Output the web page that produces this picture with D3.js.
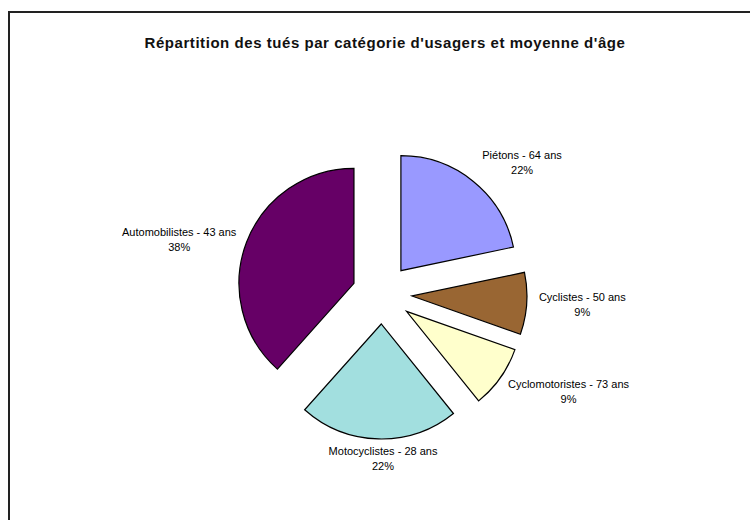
<!DOCTYPE html>
<html>
<head>
<meta charset="utf-8">
<script src="https://cdn.jsdelivr.net/npm/d3@7"></script>
<style>
  body { margin: 0; background: #fff; }
  svg { display: block; }
</style>
</head>
<body>
<svg id="chart" width="750" height="520"></svg>
<script>
'use strict';
var categories = ['Piétons', 'Cyclistes', 'Cyclomotoristes', 'Motocyclistes', 'Automobilistes'];
var ages = [64, 50, 73, 28, 43];
var shares = [21.7, 8.7, 8.8, 22.4, 38.4];
var colors = ['#9999ff', '#996633', '#ffffcc', '#a2dfdf', '#660066'];

var titleText = "Répartition des tués par catégorie d'usagers et moyenne d'âge";

var svg = d3.select('#chart');

// frame (open on the right and bottom, like the source)
svg.append('path')
   .attr('d', 'M9,520 V12 H750')
   .style('fill', 'none')
   .style('stroke', '#222')
   .style('stroke-width', 2);

svg.append('text')
   .text(titleText)
   .attr('x', 385)
   .attr('y', 44)
   .style('font-family', '"Liberation Sans", Arial, sans-serif')
   .style('font-weight', 'bold')
   .style('font-size', '15px')
   .style('letter-spacing', '0.55px')
   .style('fill', '#111')
   .style('dominant-baseline', 'middle')
   .style('text-anchor', 'middle');

var cx = 382, cy = 294,
    radius = 115,
    explode = 30,
    labelR = 154;

// small hand nudges so label boxes sit where the source put them
var labelNudge = [[3, -2.5], [3, -2], [0, -1], [9, -4.5], [-1.5, 4.5]];

var slices = d3.pie().sort(null).value(function(d){ return d; })(shares);
var arc = d3.arc().innerRadius(0).outerRadius(radius);

var pie = svg.append('g').attr('id', 'pie')
             .attr('transform', d3.zoomIdentity.translate(cx, cy));

var mid = function(d){ return (d.startAngle + d.endAngle) / 2; };

pie.selectAll('path')
   .data(slices)
   .enter()
   .append('path')
   .attr('transform', function(d){
       var a = mid(d);
       return d3.zoomIdentity.translate(explode * Math.sin(a), -explode * Math.cos(a));
   })
   .attr('d', arc)
   .style('fill', function(d, i){ return colors[i]; })
   .style('stroke', '#000')
   .style('stroke-width', 1.2)
   .style('stroke-linejoin', 'miter');

// labels: box placed outside the exploded slice
var labels = pie.append('g').attr('id', 'labels');
labels.selectAll('g')
   .data(slices)
   .enter()
   .append('g')
   .each(function(d, i){
       var g = d3.select(this);
       var a = mid(d);
       var t = g.append('text')
                .attr('text-anchor', 'middle')
                .style('font-family', '"Liberation Sans", Arial, sans-serif')
                .style('font-size', '11px')
                .style('fill', '#000');
       t.append('tspan').attr('x', 0).attr('dy', '-0.2em')
        .text(categories[i] + ' - ' + ages[i] + ' ans');
       t.append('tspan').attr('x', 0).attr('dy', '1.35em')
        .text(Math.round(shares[i]) + '%');
       var bb = t.node().getBBox();
       var hw = bb.width / 2, hh = 14;
       var sx = Math.max(-1, Math.min(1, Math.sin(a) * 3));
       var x = labelR * Math.sin(a) + hw * sx + labelNudge[i][0];
       var y = -labelR * Math.cos(a) - hh * Math.cos(a) + labelNudge[i][1];
       g.attr('transform', d3.zoomIdentity.translate(x, y));
   });
</script>
</body>
</html>
